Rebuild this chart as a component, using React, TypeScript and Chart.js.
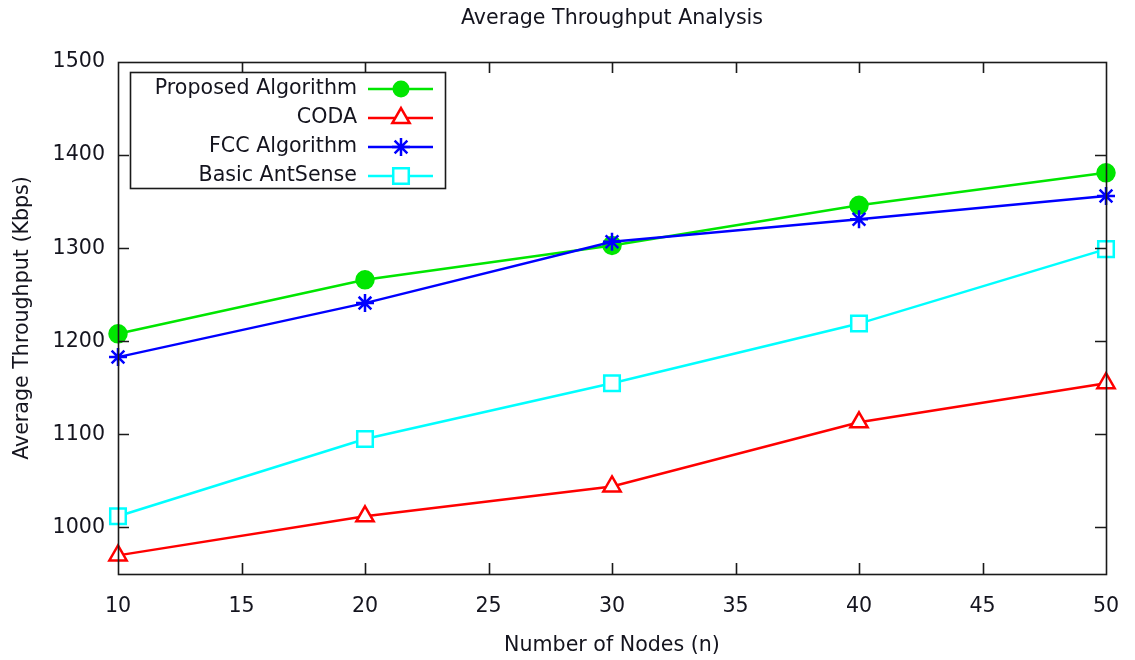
import React, { useEffect, useRef } from "react";
import { Chart, registerables } from "chart.js";

Chart.register(...registerables);

const titleText = "Average Throughput Analysis";
const xTitle = "Number of Nodes (n)";
const yTitle = "Average Throughput (Kbps)";

const nodes = [10, 20, 30, 40, 50];
const proposed = [1208, 1266, 1303, 1346, 1381];
const coda = [970, 1012, 1044, 1113, 1155];
const fcc = [1183, 1241, 1307, 1331, 1356];
const basic = [1012, 1095, 1155, 1219, 1299];

const seriesNames = ["Proposed Algorithm", "CODA", "FCC Algorithm", "Basic AntSense"];
const seriesColors = ["#00e600", "#ff0000", "#0000ff", "#00ffff"];

const FONT = "'DejaVu Sans', Verdana, sans-serif";
const FS = 20.6;
const TEXT = "#14141e";
const AXIS = "#1a1a1a";

const drawMarker = (ctx: CanvasRenderingContext2D, style: string, x: number, y: number, r: number, color: string) => {
  ctx.save();
  ctx.strokeStyle = color;
  ctx.fillStyle = color;
  ctx.lineWidth = 2.5;
  ctx.beginPath();
  if (style === "circle") {
    ctx.arc(x, y, r, 0, Math.PI * 2);
    ctx.fill();
  } else if (style === "triangle") {
    const a = -Math.PI / 2;
    for (let i = 0; i < 3; i++) {
      const ang = a + (i * 2 * Math.PI) / 3;
      const px = x + Math.cos(ang) * r;
      const py = y + Math.sin(ang) * r;
      if (i === 0) ctx.moveTo(px, py);
      else ctx.lineTo(px, py);
    }
    ctx.closePath();
    ctx.fillStyle = "#ffffff";
    ctx.fill();
    ctx.stroke();
  } else if (style === "star") {
    for (let i = 0; i < 4; i++) {
      const ang = (i * Math.PI) / 4;
      ctx.moveTo(x - Math.cos(ang) * r, y - Math.sin(ang) * r);
      ctx.lineTo(x + Math.cos(ang) * r, y + Math.sin(ang) * r);
    }
    ctx.stroke();
  } else {
    const s = r * Math.SQRT1_2;
    ctx.rect(x - s, y - s, 2 * s, 2 * s);
    ctx.fillStyle = "#ffffff";
    ctx.fill();
    ctx.stroke();
  }
  ctx.restore();
};

const pointStyles = ["circle", "triangle", "star", "rect"];
const pointRadii = [8.5, 10, 9, 11];

const framePlugin = {
  id: "frame",
  afterDatasetsDraw(chart: any) {
    const { ctx, chartArea } = chart;
    const { left, right, top, bottom } = chartArea;
    const xs = chart.scales.x;
    const ys = chart.scales.y;
    ctx.save();
    ctx.strokeStyle = AXIS;
    ctx.lineWidth = 1.6;
    const tl = 11;
    ctx.beginPath();
    xs.ticks.forEach((t: any) => {
      const px = Math.round(xs.getPixelForValue(t.value)) + 0.5;
      if (px <= left + 1 || px >= right - 1) return;
      ctx.moveTo(px, bottom);
      ctx.lineTo(px, bottom - tl);
      ctx.moveTo(px, top);
      ctx.lineTo(px, top + tl);
    });
    ys.ticks.forEach((t: any) => {
      const py = Math.round(ys.getPixelForValue(t.value)) + 0.5;
      if (py <= top + 1 || py >= bottom - 1) return;
      ctx.moveTo(left, py);
      ctx.lineTo(left + tl, py);
      ctx.moveTo(right, py);
      ctx.lineTo(right - tl, py);
    });
    ctx.stroke();
    ctx.strokeRect(Math.round(left) + 0.5, Math.round(top) + 0.5, Math.round(right - left), Math.round(bottom - top));
    ctx.restore();
  },
  afterDraw(chart: any) {
    const { ctx, chartArea } = chart;
    ctx.save();
    ctx.fillStyle = TEXT;
    ctx.font = `${FS}px ${FONT}`;
    ctx.textAlign = "center";
    ctx.textBaseline = "middle";
    ctx.fillText(titleText, (chartArea.left + chartArea.right) / 2, 19);

    const bx = 130, by = 72, bw = 315, bh = 116;
    ctx.fillStyle = "#ffffff";
    ctx.fillRect(bx, by, bw, bh);
    ctx.strokeStyle = AXIS;
    ctx.lineWidth = 1.6;
    ctx.strokeRect(bx + 0.5, by + 0.5, bw, bh);
    const rowY = [89, 118, 147, 176];
    seriesNames.forEach((name, i) => {
      const y = rowY[i];
      ctx.fillStyle = TEXT;
      ctx.textAlign = "right";
      ctx.textBaseline = "middle";
      ctx.font = `${FS}px ${FONT}`;
      ctx.fillText(name, 357, y);
      ctx.strokeStyle = seriesColors[i];
      ctx.lineWidth = 2.5;
      ctx.beginPath();
      ctx.moveTo(368, y);
      ctx.lineTo(433, y);
      ctx.stroke();
      drawMarker(ctx, pointStyles[i], 401, y, pointRadii[i], seriesColors[i]);
    });
    ctx.restore();
  },
};

const makeData = (values: number[]) => nodes.map((n, i) => ({ x: n, y: values[i] }));

export default function App() {
  const canvasRef = useRef<HTMLCanvasElement | null>(null);

  useEffect(() => {
    if (!canvasRef.current) return;
    const allSeries = [proposed, coda, fcc, basic];
    const chart = new Chart(canvasRef.current, {
      type: "line",
      data: {
        datasets: allSeries.map((vals, i) => ({
          label: seriesNames[i],
          data: makeData(vals),
          borderColor: seriesColors[i],
          backgroundColor: seriesColors[i],
          borderWidth: 2.5,
          pointStyle: pointStyles[i] as any,
          pointRadius: pointRadii[i],
          pointHoverRadius: pointRadii[i],
          pointBorderWidth: 2.5,
          pointBorderColor: seriesColors[i],
          pointBackgroundColor: i === 0 ? seriesColors[i] : "#ffffff",
          tension: 0,
          fill: false,
          clip: false as any,
          order: i === 0 ? 1 : 0,
        })),
      },
      options: {
        responsive: false,
        animation: false,
        events: [],
        layout: { padding: { left: 0, right: 29, top: 62, bottom: 0 } },
        plugins: {
          legend: { display: false },
          title: { display: false },
          tooltip: { enabled: false },
        },
        scales: {
          x: {
            type: "linear",
            min: 10,
            max: 50,
            ticks: {
              stepSize: 5,
              color: TEXT,
              font: { family: FONT, size: FS },
              padding: 20,
              maxRotation: 0,
              callback: (v: any) => String(v),
            },
            grid: { display: false, drawTicks: false },
            border: { display: false },
            title: {
              display: true,
              text: xTitle,
              color: TEXT,
              font: { family: FONT, size: FS },
              padding: { top: 0, bottom: 2 },
            },
            afterFit: (scale: any) => {
              scale.height = 86;
              scale.paddingLeft = 0;
              scale.paddingRight = 0;
            },
          },
          y: {
            type: "linear",
            min: 950,
            max: 1500,
            afterBuildTicks: (scale: any) => {
              scale.ticks = scale.ticks.filter((t: any) => t.value % 100 === 0);
            },
            ticks: {
              stepSize: 100,
              color: TEXT,
              font: { family: FONT, size: FS },
              padding: 13,
              callback: (v: any) => String(v),
            },
            grid: { display: false, drawTicks: false },
            border: { display: false },
            title: {
              display: true,
              text: yTitle,
              color: TEXT,
              font: { family: FONT, size: FS },
              padding: { top: 10, bottom: 0 },
            },
            afterFit: (scale: any) => {
              scale.width = 118;
              scale.paddingTop = 0;
              scale.paddingBottom = 0;
            },
          },
        },
      },
      plugins: [framePlugin],
    });
    return () => chart.destroy();
  }, []);

  return (
    <div style={{ position: "fixed", left: 0, top: 0, width: 1135, height: 660, background: "#ffffff" }}>
      <canvas ref={canvasRef} width={1135} height={660} style={{ display: "block" }} />
    </div>
  );
}
